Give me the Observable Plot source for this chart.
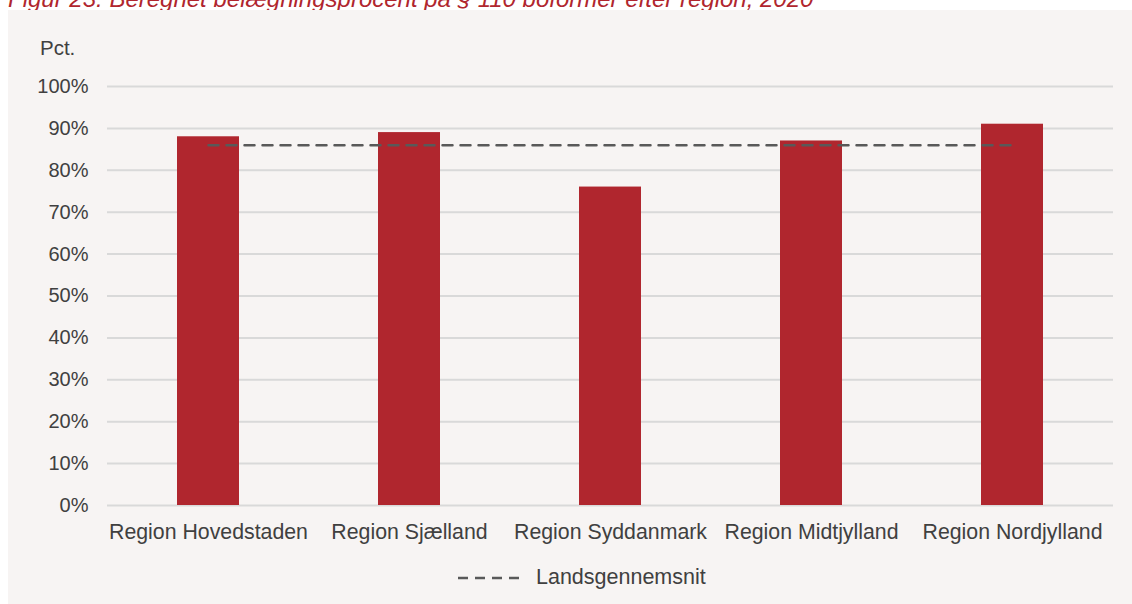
<!DOCTYPE html>
<html>
<head>
<meta charset="utf-8">
<script src="https://cdn.jsdelivr.net/npm/d3@7"></script>
<script src="https://cdn.jsdelivr.net/npm/@observablehq/plot@0.6"></script>
<style>
  html, body { margin: 0; padding: 0; background: #ffffff; width: 1132px; height: 604px; overflow: hidden; font-family: "Liberation Sans", Arial, sans-serif; }
  #title { position: absolute; left: 8px; top: -13px; font-size: 24px; line-height: 24px; font-style: italic; color: #b0262e; white-space: nowrap; }
  #panel { position: absolute; left: 8px; top: 10px; width: 1124px; height: 594px; background: #f7f4f3; }
  #ylab { position: absolute; left: 32px; top: 26px; font-size: 20.5px; color: #404040; }
  #chart { position: absolute; left: 0; top: 0; }
  #legend { position: absolute; left: 450px; top: 555px; display: flex; align-items: center; font-size: 21.5px; color: #404040; }
  #legend svg { margin-right: 16px; }
</style>
</head>
<body>
<div id="title">Figur 23: Beregnet belægningsprocent på § 110 boformer efter region, 2020</div>
<div id="panel">
  <div id="ylab">Pct.</div>
  <div id="chart"></div>
  <div id="legend"><svg width="62" height="6"><line x1="0" y1="3" x2="62" y2="3" stroke="#595959" stroke-width="2.5" stroke-dasharray="10,7"></line></svg><span>Landsgennemsnit</span></div>
</div>
<script>
const regions = ["Region Hovedstaden", "Region Sjælland", "Region Syddanmark", "Region Midtjylland", "Region Nordjylland"];
const values = [88, 89, 76, 87, 91];
const average = 86;
const yTicks = [0, 10, 20, 30, 40, 50, 60, 70, 80, 90, 100];

const data = regions.map((r, i) => ({region: r, value: values[i]}));
const avgData = regions.map(r => ({region: r, value: average}));

const chart = Plot.plot({
  width: 1124,
  height: 545,
  marginLeft: 99,
  marginRight: 19,
  marginTop: 76,
  marginBottom: 50,
  style: { background: "transparent", fontFamily: "Liberation Sans, Arial, sans-serif", fontSize: "20px", color: "#404040" },
  x: { domain: regions, paddingInner: 0.69, paddingOuter: 0.345, label: null },
  y: { domain: [0, 100], label: null },
  marks: [
    Plot.gridY(yTicks, { stroke: "#d9d9d9", strokeOpacity: 1, strokeWidth: 2 }),
    Plot.barY(data, { x: "region", y: "value", fill: "#b0262e" }),
    Plot.lineY(avgData, { x: "region", y: "value", stroke: "#595959", strokeWidth: 2.5, strokeDasharray: "10,8" }),
    Plot.axisY({ ticks: yTicks, tickFormat: d => d + "%", tickSize: 0, tickPadding: 19, fontSize: 20, label: null }),
    Plot.axisX({ tickSize: 0, tickPadding: 18, fontSize: 21.3, label: null })
  ]
});
document.getElementById("chart").appendChild(chart);
</script>
</body>
</html>
